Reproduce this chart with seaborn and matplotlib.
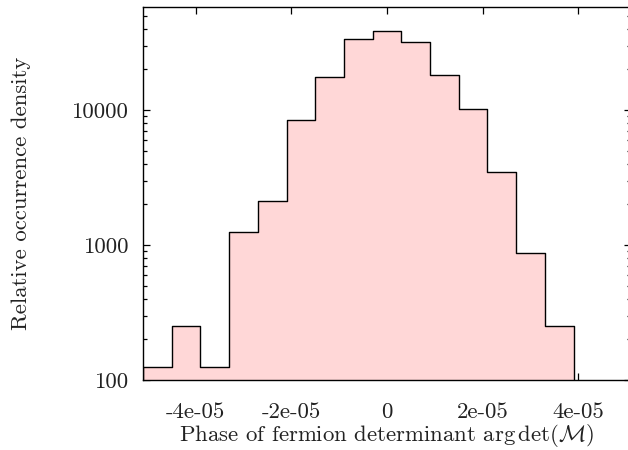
import numpy as np
import matplotlib
matplotlib.use("Agg")
import matplotlib.pyplot as plt
from matplotlib.ticker import FixedLocator, FixedFormatter, LogLocator, NullFormatter
import seaborn as sns

# Histogram of the phase of the fermion determinant (bin width 6e-6)
bin_edges = [-5.1e-5, -4.5e-5, -3.9e-5, -3.3e-5, -2.7e-5, -2.1e-5, -1.5e-5, -0.9e-5,
             -0.3e-5, 0.3e-5, 0.9e-5, 1.5e-5, 2.1e-5, 2.7e-5, 3.3e-5, 3.9e-5]
bin_centers = [-4.8e-5, -4.2e-5, -3.6e-5, -3.0e-5, -2.4e-5, -1.8e-5, -1.2e-5, -0.6e-5,
               0.0, 0.6e-5, 1.2e-5, 1.8e-5, 2.4e-5, 3.0e-5, 3.6e-5]
density = [125, 250, 125, 1250, 2125, 8500, 17500, 33500,
           38250, 31750, 18250, 10250, 3500, 875, 250]

x_ticks = [-4e-5, -2e-5, 0.0, 2e-5, 4e-5]
x_tick_labels = ["-4e-05", "-2e-05", "0", "2e-05", "4e-05"]
y_ticks = [100, 1000, 10000]
y_tick_labels = ["100", "1000", "10000"]

sns.set_style("ticks")
plt.rcParams.update({
    "font.family": "serif",
    "font.serif": ["cmr10", "DejaVu Serif"],
    "mathtext.fontset": "cm",
    "axes.formatter.use_mathtext": True,
    "font.size": 16.4,
    "text.color": "#222222",
    "axes.labelcolor": "#222222",
    "xtick.color": "black",
    "ytick.color": "black",
    "xtick.labelcolor": "#222222",
    "ytick.labelcolor": "#222222",
})

fig = plt.figure(figsize=(6.28, 4.5), dpi=100)
ax = fig.add_axes([143 / 628, 70 / 450, 488 / 628, 373 / 450])
ax.set_yscale("log")

sns.histplot(x=bin_centers, weights=density, bins=bin_edges, element="step",
             fill=True, facecolor="#FFD7D7", edgecolor="black", linewidth=1.0,
             alpha=1.0, ax=ax)

ax.set_xlim(-5.1e-5, 5.1e-5)
ax.set_ylim(100, 58000)

ax.xaxis.set_major_locator(FixedLocator(x_ticks))
ax.xaxis.set_major_formatter(FixedFormatter(x_tick_labels))
ax.yaxis.set_major_locator(FixedLocator(y_ticks))
ax.yaxis.set_major_formatter(FixedFormatter(y_tick_labels))
ax.yaxis.set_minor_locator(LogLocator(base=10, subs=np.arange(2, 10)))
ax.yaxis.set_minor_formatter(NullFormatter())
ax.xaxis.set_minor_locator(FixedLocator([]))

ax.tick_params(axis="both", which="both", direction="in", top=True, right=True,
               width=0.9)
ax.tick_params(axis="both", which="major", length=5)
ax.tick_params(axis="both", which="minor", length=2.6)
ax.tick_params(axis="x", which="major", pad=16)
ax.tick_params(axis="y", which="major", pad=10)
ax.set_axisbelow(True)

for side in ["left", "right", "top", "bottom"]:
    ax.spines[side].set_visible(True)
    ax.spines[side].set_color("black")
    ax.spines[side].set_linewidth(1.0)

ax.set_xlabel(r"Phase of fermion determinant $\arg\det(\mathcal{M})$", labelpad=0.5)
ax.set_ylabel("Relative occurrence density", labelpad=30)

fig.savefig("out.png", dpi=100)
